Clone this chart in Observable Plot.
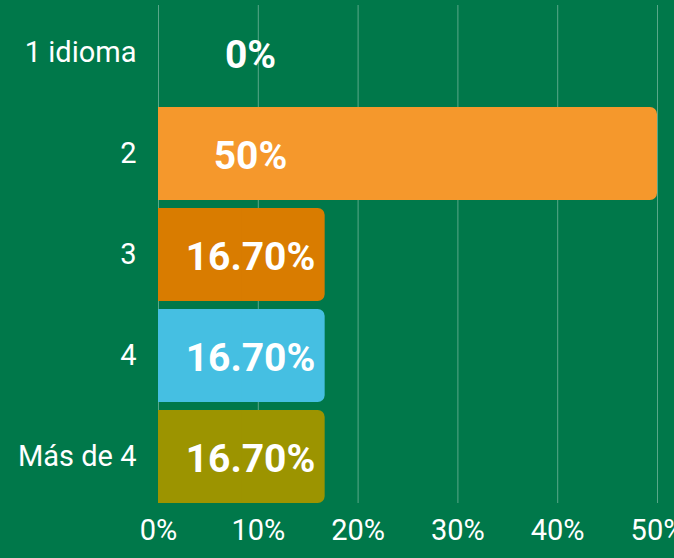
<!DOCTYPE html>
<html>
<head>
<meta charset="utf-8">
<script src="https://cdn.jsdelivr.net/npm/d3@7"></script>
<script src="https://cdn.jsdelivr.net/npm/@observablehq/plot@0.6"></script>
<style>
  html, body { margin: 0; padding: 0; background: #00784A; overflow: hidden; }
  #chart svg { display: block; font-family: Roboto, "DejaVu Sans", sans-serif; }
</style>
</head>
<body>
<div id="chart"></div>
<script>
const categories = ["1 idioma", "2", "3", "4", "Más de 4"];
const values = [0, 50, 16.7, 16.7, 16.7];
const labels = ["0%", "50%", "16.70%", "16.70%", "16.70%"];
const colors = ["#00784A", "#F5982C", "#D97C00", "#45BFE2", "#9C9400"];
const xTicks = [0, 10, 20, 30, 40, 50];

const data = categories.map((c, i) => ({category: c, value: values[i], label: labels[i]}));

const chart = Plot.plot({
  width: 674,
  height: 558,
  marginLeft: 158,
  marginRight: 17,
  marginTop: 5,
  marginBottom: 55,
  style: {background: "#00784A", color: "white", fontFamily: "Roboto, sans-serif", overflow: "visible"},
  x: {domain: [0, 50], ticks: xTicks, tickFormat: d => d + "%", label: null},
  y: {domain: categories, paddingInner: 0.08, paddingOuter: 0, label: null},
  color: {domain: categories, range: colors},
  marks: [
    Plot.gridX(xTicks, {stroke: "white", strokeOpacity: 0.35, strokeWidth: 1}),
    Plot.barX(data, {y: "category", x: "value", fill: "category", rx: 7}),
    Plot.barX(data, {y: "category", x1: 0, x2: d => d.value / 2, fill: "category"}),
    Plot.axisX({ticks: xTicks, tickFormat: d => d + "%", tickSize: 0, tickPadding: 16, fontSize: 29, fill: "white", label: null}),
    Plot.axisY({tickSize: 0, tickPadding: 22, fontSize: 29, fill: "white", label: null}),
    Plot.text(data, {y: "category", text: "label", frameAnchor: "left", dx: 92, dy: 3, textAnchor: "middle", fill: "white", fontSize: 39, fontWeight: "bold"})
  ]
});
document.getElementById("chart").appendChild(chart);
</script>
</body>
</html>
